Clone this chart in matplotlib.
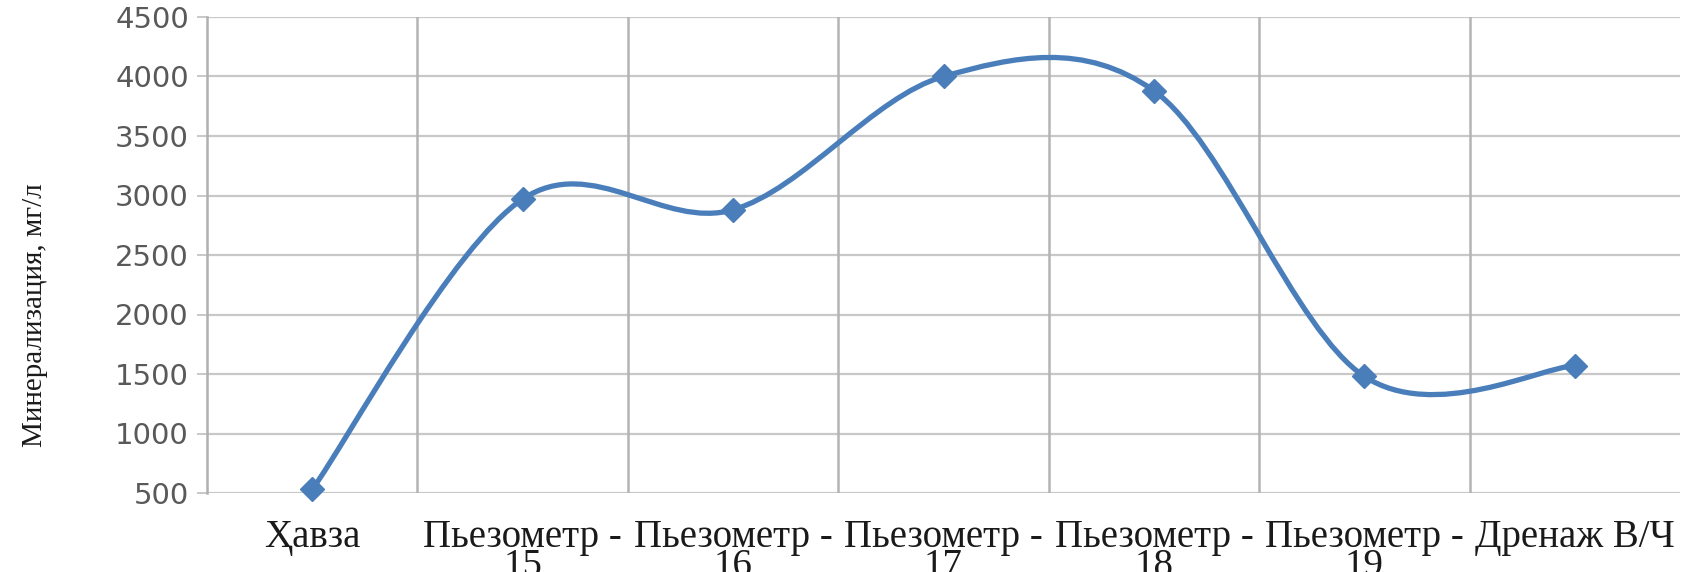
import numpy as np
import matplotlib
matplotlib.use("Agg")
import matplotlib.pyplot as plt
from matplotlib.path import Path
from matplotlib.patches import PathPatch

categories = ["Ҳавза", "Пьезометр -\n15", "Пьезометр -\n16", "Пьезометр -\n17",
              "Пьезометр -\n18", "Пьезометр -\n19", "Дренаж В/Ч"]
values = [530, 2970, 2880, 4000, 3880, 1480, 1570]
yticks = [500, 1000, 1500, 2000, 2500, 3000, 3500, 4000, 4500]
ylabel = "Минерализация, мг/л"

W, H = 1686, 572
fig = plt.figure(figsize=(W / 100, H / 100), dpi=100)
ax = fig.add_axes([207 / W, 1 - 493 / H, (1680 - 207) / W, (493 - 17) / H])

x = np.arange(len(categories))
y = np.array(values, dtype=float)

# Excel-style smoothed line (cubic Bezier with Catmull-Rom control points)
verts = [(x[0], y[0])]
codes = [Path.MOVETO]
n = len(x)
for i in range(n - 1):
    p0 = np.array([x[max(i - 1, 0)], y[max(i - 1, 0)]])
    p1 = np.array([x[i], y[i]])
    p2 = np.array([x[i + 1], y[i + 1]])
    p3 = np.array([x[min(i + 2, n - 1)], y[min(i + 2, n - 1)]])
    c1 = p1 + (p2 - p0) / 6.0
    c2 = p2 - (p3 - p1) / 6.0
    verts += [tuple(c1), tuple(c2), tuple(p2)]
    codes += [Path.CURVE4] * 3
line_color = "#4A7EBB"
ax.add_patch(PathPatch(Path(verts, codes), facecolor="none", edgecolor=line_color,
                       lw=3.8, capstyle="round", joinstyle="round", zorder=3))
ax.plot(x, y, linestyle="none", marker="D", markersize=12, color=line_color,
        markeredgecolor=line_color, zorder=4, clip_on=False)

ax.set_xlim(-0.5, len(categories) - 0.5)
ax.set_ylim(500, 4500)
ax.set_yticks(yticks)
ax.set_yticklabels([str(v) for v in yticks], fontsize=21, color="#595959",
                   family="DejaVu Sans")
ax.tick_params(axis="y", length=7, width=1.2, color="#BFBFBF", pad=6)

ax.set_xticks(x)
ax.set_xticklabels(categories, fontsize=28, family=["Liberation Serif", "DejaVu Serif"],
                   color="#1a1a1a", linespacing=0.7, va="top")
ax.tick_params(axis="x", length=0, pad=19)

# horizontal gridlines
for v in yticks:
    ax.axhline(v, color="#C8C8C8", lw=1.6, zorder=1)
# vertical gridlines at category boundaries
for b in np.arange(0.5, len(categories) - 0.5, 1.0):
    ax.axvline(b, color="#B4B4B4", lw=1.8, zorder=1)

for s in ["top", "right", "bottom"]:
    ax.spines[s].set_visible(False)
ax.spines["left"].set_color("#B0B0B0")
ax.spines["left"].set_linewidth(1.8)

fig.text(35 / W, 1 - 315 / H, ylabel, rotation=90, ha="center", va="center",
         fontsize=21, family=["Liberation Serif", "DejaVu Serif"], color="#1a1a1a")

fig.savefig("out.png", dpi=100)
